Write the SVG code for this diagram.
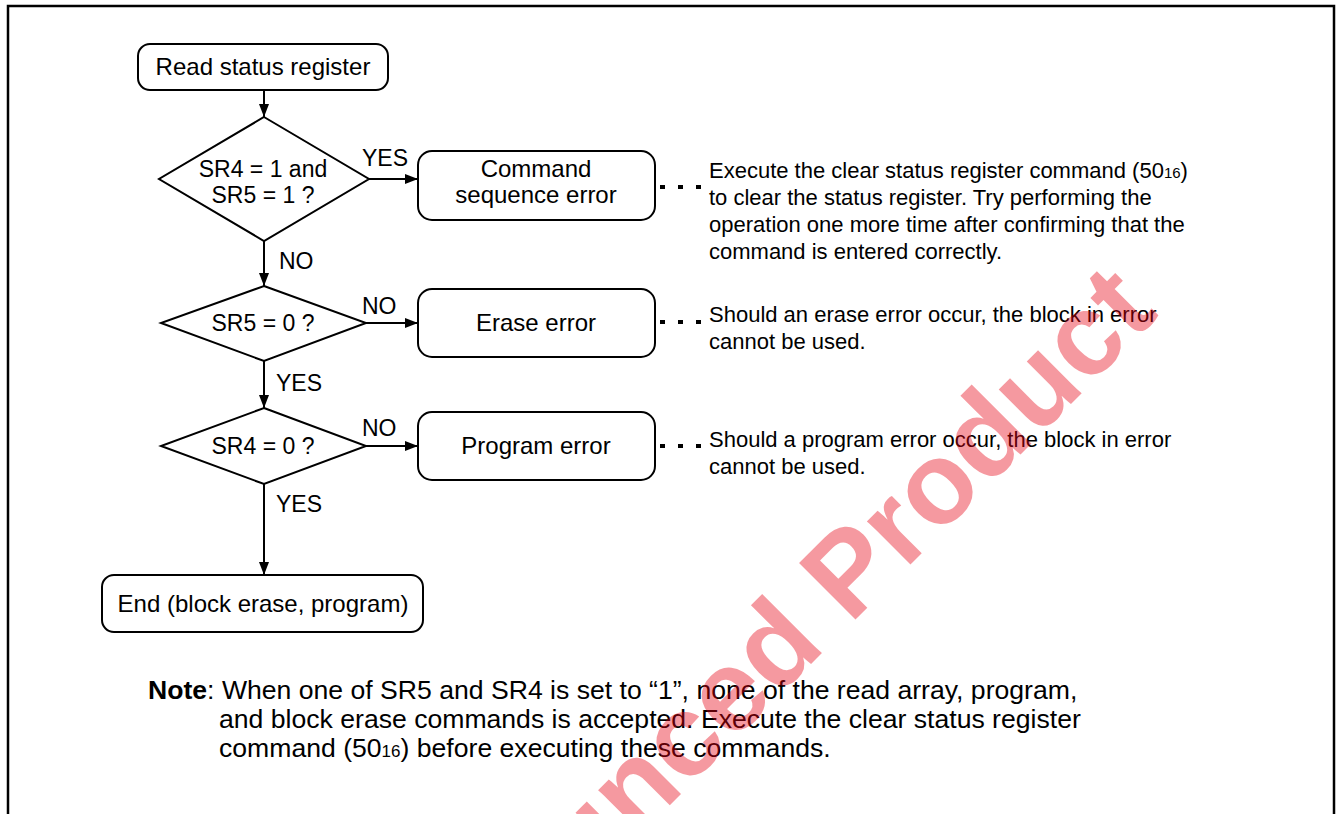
<svg xmlns="http://www.w3.org/2000/svg" width="1337" height="814" viewBox="0 0 1337 814">
<style>
text{font-family:"Liberation Sans",Arial,Helvetica,sans-serif;fill:#000}
.box{fill:#fff;stroke:#000;stroke-width:2}
.lbl{font-size:24px;text-anchor:middle}
.yn{font-size:23px}
.desc{font-size:22px}
.note{font-size:26.6px}
.conn{stroke:#000;stroke-width:2;fill:none}
.dots{stroke:#000;stroke-width:4;stroke-dasharray:5 13;fill:none}
.wm{font-size:116px;font-weight:bold;fill:#e60012;fill-opacity:0.4}
</style>
<defs>
<marker id="arr" markerUnits="userSpaceOnUse" markerWidth="13" markerHeight="10" refX="13" refY="5" orient="auto">
<path d="M0,0 L13,5 L0,10 z" fill="#000"/>
</marker>
</defs>
<rect x="0" y="0" width="1337" height="814" fill="#fff"/>
<rect id="frame" x="8" y="6" width="1326" height="830" fill="none" stroke="#000" stroke-width="2.5"/>

<g id="connectors">
<path class="conn" d="M264,90 V117" marker-end="url(#arr)"/>
<path class="conn" d="M369,179 H418" marker-end="url(#arr)"/>
<path class="conn" d="M264,241 V286" marker-end="url(#arr)"/>
<path class="conn" d="M366,323 H418" marker-end="url(#arr)"/>
<path class="conn" d="M264,361 V408" marker-end="url(#arr)"/>
<path class="conn" d="M366,446 H418" marker-end="url(#arr)"/>
<path class="conn" d="M264,484 V575" marker-end="url(#arr)"/>
<text class="yn" x="362" y="166">YES</text>
<text class="yn" x="279" y="269">NO</text>
<text class="yn" x="362" y="314">NO</text>
<text class="yn" x="276" y="391">YES</text>
<text class="yn" x="362" y="436">NO</text>
<text class="yn" x="276" y="512">YES</text>
<path class="dots" d="M660,187 H704"/>
<path class="dots" d="M660,322 H704"/>
<path class="dots" d="M660,446 H704"/>
</g>

<g id="start">
<rect class="box" x="138" y="44" width="250" height="46" rx="12"/>
<text class="lbl" x="263" y="75">Read status register</text>
</g>

<g id="check1">
<polygon class="box" points="264,117 369,179 264,241 159,179"/>
<text class="lbl" x="263" y="177" style="font-size:23px">SR4 = 1 and</text>
<text class="lbl" x="263" y="203" style="font-size:23px">SR5 = 1 ?</text>
</g>

<g id="cmd-error">
<rect class="box" x="418" y="151" width="237" height="69" rx="14"/>
<text class="lbl" x="536" y="177">Command</text>
<text class="lbl" x="536" y="203">sequence error</text>
</g>

<g id="check2">
<polygon class="box" points="264,286 366,323 264,361 161,323"/>
<text class="lbl" x="263" y="331" style="font-size:23px">SR5 = 0 ?</text>
</g>

<g id="erase-error">
<rect class="box" x="418" y="289" width="237" height="68" rx="14"/>
<text class="lbl" x="536" y="331">Erase error</text>
</g>

<g id="check3">
<polygon class="box" points="264,408 366,446 264,484 161,446"/>
<text class="lbl" x="263" y="454" style="font-size:23px">SR4 = 0 ?</text>
</g>

<g id="program-error">
<rect class="box" x="418" y="412" width="237" height="68" rx="14"/>
<text class="lbl" x="536" y="454">Program error</text>
</g>

<g id="end">
<rect class="box" x="102" y="575" width="321" height="57" rx="12"/>
<text class="lbl" x="263" y="612">End (block erase, program)</text>
</g>

<g id="cmd-desc">
<text class="desc" x="709" y="178">Execute the clear status register command (50<tspan font-size="15">16</tspan>)</text>
<text class="desc" x="709" y="205">to clear the status register. Try performing the</text>
<text class="desc" x="709" y="232">operation one more time after confirming that the</text>
<text class="desc" x="709" y="259">command is entered correctly.</text>
</g>

<g id="erase-desc">
<text class="desc" x="709" y="322">Should an erase error occur, the block in error</text>
<text class="desc" x="709" y="349">cannot be used.</text>
</g>

<g id="program-desc">
<text class="desc" x="709" y="447">Should a program error occur, the block in error</text>
<text class="desc" x="709" y="474">cannot be used.</text>
</g>

<g id="note">
<text class="note" x="148" y="699"><tspan font-weight="bold">Note</tspan>: When one of SR5 and SR4 is set to “1”, none of the read array, program,</text>
<text class="note" x="219" y="728">and block erase commands is accepted. Execute the clear status register</text>
<text class="note" x="219" y="757">command (50<tspan font-size="17">16</tspan>) before executing these commands.</text>
</g>

<g id="watermark">
<text class="wm" transform="translate(1160,315) rotate(-45)" text-anchor="end">unced Product</text>
</g>
</svg>
